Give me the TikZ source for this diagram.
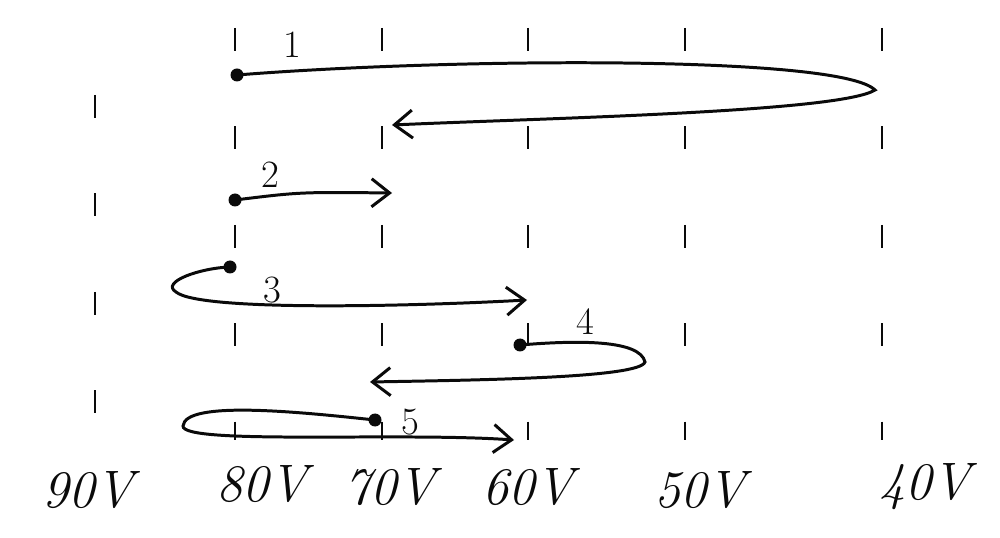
\documentclass[tikz,border=0pt]{standalone}
\usepackage{xcolor}
\usepackage{tikz}
\usetikzlibrary{arrows.meta,calc}
\definecolor{inkblack}{RGB}{10,10,10}

\begin{document}
\begin{tikzpicture}[x=0.2mm,y=-0.2mm,
  guide/.style={draw=inkblack, line width=1.1pt, dash pattern=on 13pt off 43pt},
  traj/.style={draw=inkblack, line width=1.7pt, line cap=round},
  tip/.style={-{Straight Barb[length=3.6mm,width=5.6mm,line width=1.7pt]}},
  dotpt/.style={circle, fill=inkblack, inner sep=0pt, minimum size=2.6mm},
  runno/.style={inkblack, font=\fontsize{22}{24}\selectfont},
  vlabel/.style={inkblack, font=\fontsize{30}{32}\selectfont\itshape}]
\useasboundingbox (0,0) rectangle (1000,538);
% voltage columns
\foreach \x/\v/\y in {95/90/95,235/80/28,382/70/28,528/60/28,685/50/28,882/40/28} {
  \coordinate (top\v) at (\x,\y);
  \coordinate (bot\v) at (\x,440);
  \draw[guide] (top\v) -- (bot\v);
}
\node[vlabel] (lab90) at (88,490) {90V};
\node[vlabel] (lab80) at (262,484) {80V};
\node[vlabel] (lab70) at (390,487) {70V};
\node[vlabel] (lab60) at (528,487) {60V};
\node[vlabel] (lab50) at (700,490) {50V};
\node[vlabel] (lab40) at (925,487) {40V};
% start points
\node[dotpt] (d1) at (237,75) {};
\node[dotpt] (d2) at (235,200) {};
\node[dotpt] (d3) at (230,267) {};
\node[dotpt] (d4) at (520,345) {};
\node[dotpt] (d5) at (375,420) {};
\node[runno] (n1) at (292,45) {1};
\node[runno] (n2) at (270,175) {2};
\node[runno] (n3) at (272,290) {3};
\node[runno] (n4) at (585,322) {4};
\node[runno] (n5) at (410,422) {5};
% turning points and ends
\coordinate (t1) at (875,90);
\coordinate (e1) at (392,125);
\coordinate (e2) at (392,193);
\coordinate (t3) at (176,292);
\coordinate (e3) at (527,300);
\coordinate (t4) at (645,362);
\coordinate (e4) at (370,382);
\coordinate (t5) at (183,426);
\coordinate (e5) at (514,440);
% runs
\draw[traj,tip] (d1.center) .. controls (450,58) and (840,55) .. (t1)
  .. controls (840,112) and (550,118) .. (e1);
\draw[traj,tip] (d2.center) .. controls (300,192) .. (e2);
\draw[traj,tip] (d3.center) .. controls (200,268) and (160,282) .. (t3)
  .. controls (200,312) and (420,306) .. (e3);
\draw[traj,tip] (d4.center) .. controls (580,340) and (640,340) .. (t4)
  .. controls (640,378) and (480,380) .. (e4);
\draw[traj,tip] (d5.center) .. controls (300,412) and (185,400) .. (t5)
  .. controls (182,445) and (400,432) .. (e5);
\end{tikzpicture}
\end{document}
